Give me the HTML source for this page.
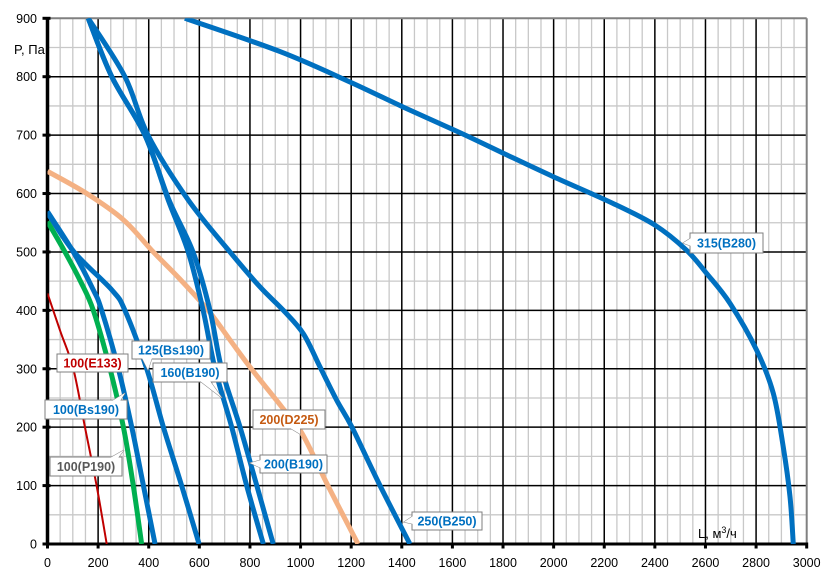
<!DOCTYPE html>
<html><head><meta charset="utf-8">
<style>
html,body{margin:0;padding:0;background:#fff;}
svg{display:block;font-family:"Liberation Sans",sans-serif;}
</style></head>
<body>
<svg id="chart" width="827" height="572" viewBox="0 0 827 572" xmlns="http://www.w3.org/2000/svg">
<g id="grid"></g>
<g id="axes"></g>
<g id="series"></g>
<g id="labels"></g>
<text x="14" y="54" font-size="13" fill="#000">P, Па</text>
<text x="698" y="538" font-size="13" fill="#000">L, м<tspan dy="-5" font-size="9">3</tspan><tspan dy="5">/ч</tspan></text>
</svg>
<script>
const xTicks=[0,200,400,600,800,1000,1200,1400,1600,1800,2000,2200,2400,2600,2800,3000];
const yTicks=[0,100,200,300,400,500,600,700,800,900];
const sE133X=[0,50,102,148,194,234];
const sE133Y=[429,365,300,200,100,0];
const sP190X=[0,69,130,181,247,300,339,372];
const sP190Y=[552,500,450,400,300,200,100,0];
const sBs100X=[0,102,181,214,280,333,379,425];
const sBs100Y=[569,500,435,400,300,200,100,0];
const sBs125X=[0,105,254,306,392,458,530,599];
const sBs125Y=[567,500,435,400,300,200,100,0];
const sD225X=[0,155,300,418,520,635,720,800,925,1005,1108,1227];
const sD225Y=[638,600,555,500,455,400,350,303,235,190,100,0];
const sB160X=[161,254,385,477,556,615,662,728,787,853];
const sB160Y=[900,800,700,589,500,400,300,200,100,0];
const sB200X=[161,254,385,480,575,642,688,761,827,892];
const sB200Y=[900,800,700,589,500,400,300,200,100,0];
const sB250X=[161,306,397,556,721,840,932,1011,1077,1143,1203,1314,1432];
const sB250Y=[900,800,700,589,500,440,400,360,303,246,200,100,0];
const sB280X=[543,919,1195,1406,1636,1801,1998,2235,2400,2525,2605,2697,2802,2868,2907,2934,2947];
const sB280Y=[900,843,791,748,703,669,629,583,546,503,463,412,332,258,167,81,0];

const X0=47.5,X1=806.7,Y0=544,Y1=18.3;
const xs=v=>X0+(v/3000)*(X1-X0);
const ys=v=>Y0-(v/900)*(Y0-Y1);
const NS="http://www.w3.org/2000/svg";
function mk(tag,attrs,parent){const e=document.createElementNS(NS,tag);for(const k in attrs)e.setAttribute(k,attrs[k]);parent.appendChild(e);return e;}
const grid=document.getElementById('grid'),axes=document.getElementById('axes'),series=document.getElementById('series'),labels=document.getElementById('labels');

for(let v=50;v<3000;v+=50){if(v%200===0)continue;const l=mk('line',{x1:xs(v),x2:xs(v),y1:Y1,y2:Y0,stroke:'#c8c8c8','stroke-width':1.3},grid);

}
for(let v=50;v<900;v+=100){const l=mk('line',{x1:X0,x2:X1,y1:ys(v),y2:ys(v),stroke:'#c8c8c8','stroke-width':1.3},grid);

}
xTicks.forEach(v=>{if(v===0||v===3000)return;const l=mk('line',{x1:xs(v),x2:xs(v),y1:Y1,y2:Y0,stroke:'#000','stroke-width':1.5},grid);

});
yTicks.forEach(v=>{if(v===0||v===900)return;const l=mk('line',{x1:X0,x2:X1,y1:ys(v),y2:ys(v),stroke:'#000','stroke-width':1.5},grid);

});
const b1=mk('line',{x1:X0,x2:X1,y1:Y1,y2:Y1,stroke:'#808080','stroke-width':2},axes);


const b2=mk('line',{x1:X1,x2:X1,y1:Y1,y2:Y0,stroke:'#808080','stroke-width':2},axes);


const ax=mk('line',{x1:X0,x2:X1,y1:Y0,y2:Y0,stroke:'#000','stroke-width':3},axes);


const ay=mk('line',{x1:X0,x2:X0,y1:Y1,y2:Y0+1.5,stroke:'#000','stroke-width':3.5},axes);


for(let v=0;v<=3000;v+=50){const t=mk('rect',{x:xs(v)-1.5,y:Y0-1.5,width:3,height:(v%200===0)?6:3,fill:'#000'},axes);

}
xTicks.forEach(v=>{const t=mk('text',{x:xs(v),y:567,'font-size':12.5,'text-anchor':'middle',fill:'#000'},axes);t.textContent=v;

});
yTicks.forEach(v=>{const k=mk('line',{x1:X0-5,x2:X0+3,y1:ys(v),y2:ys(v),stroke:'#000','stroke-width':3},axes);


const t=mk('text',{x:37,y:ys(v)+4.5,'font-size':12.5,'text-anchor':'end',fill:'#000'},axes);t.textContent=v;

});

function curve(X,Y){const p=X.map((x,i)=>[xs(x),ys(Y[i])]);let d='M'+p[0][0]+','+p[0][1];
for(let i=0;i<p.length-1;i++){const p0=p[i-1]||p[i],p1=p[i],p2=p[i+1],p3=p[i+2]||p2;
const c1=[p1[0]+(p2[0]-p0[0])/6,p1[1]+(p2[1]-p0[1])/6],c2=[p2[0]-(p3[0]-p1[0])/6,p2[1]-(p3[1]-p1[1])/6];
d+=' C'+c1[0]+','+c1[1]+' '+c2[0]+','+c2[1]+' '+p2[0]+','+p2[1];}return d;}
const defs=mk('clipPath',{id:'clip'},series);mk('rect',{x:X0,y:Y1,width:X1-X0,height:Y0-Y1},defs);
function draw(X,Y,color,w,name){const p=mk('path',{d:curve(X,Y),fill:'none',stroke:color,'stroke-width':w,'stroke-linejoin':'round','clip-path':'url(#clip)'},series);

}
draw(sB280X,sB280Y,'#0070c0',5,'series-315-b280');
draw(sB250X,sB250Y,'#0070c0',5,'series-250-b250');
draw(sD225X,sD225Y,'#f4b183',5,'series-200-d225');
draw(sB200X,sB200Y,'#0070c0',5,'series-200-b190');
draw(sB160X,sB160Y,'#0070c0',5,'series-160-b190');
draw(sBs125X,sBs125Y,'#0070c0',5,'series-125-bs190');
draw(sBs100X,sBs100Y,'#0070c0',5,'series-100-bs190');
draw(sP190X,sP190Y,'#00b050',5,'series-100-p190');
draw(sE133X,sE133Y,'#c00000',2,'series-100-e133');

function label(txt,x,y,w,h,color,tx,ty,ax1,ay1,ax2,ay2,name){
const g=mk('g',{},labels);


mk('polygon',{points:`${ax1},${ay1} ${ax2},${ay2} ${tx},${ty}`,fill:'#fff',stroke:'#7f7f7f','stroke-width':1},g);
mk('rect',{x:x,y:y,width:w,height:h,fill:'#fff',stroke:'#7f7f7f','stroke-width':1},g);
mk('polygon',{points:`${ax1},${ay1} ${ax2},${ay2} ${tx},${ty}`,fill:'#fff',stroke:'none'},g);
const t=mk('text',{x:x+w/2,y:y+h/2+4.5,'font-size':12.5,'font-weight':'bold','text-anchor':'middle',fill:color},g);t.textContent=txt;}
label('100(E133)',57,354,71,18,'#c00000',72,370,66,371,76,371,'label-100-e133');
label('125(Bs190)',132,341,78,18,'#0070c0',148,370,142,358,152,358,'label-125-bs190');
label('160(B190)',153,363,74,19,'#0070c0',222,398,200,381,210,381,'label-160-b190');
label('100(Bs190)',45,400,82,19,'#0070c0',125,393,112,401,120,401,'label-100-bs190');
label('100(P190)',50,457,72,19,'#595959',124,450,110,458,118,458,'label-100-p190');
label('200(D225)',253,410,72,19,'#c55a11',300,434,290,428,300,428,'label-200-d225');
label('200(B190)',260,455,67,18,'#0070c0',250,463,261,460,261,468,'label-200-b190');
label('250(B250)',412,512,70,18,'#0070c0',404,522,413,516,413,524,'label-250-b250');
label('315(B280)',690,233,73,20,'#0070c0',683,243,691,238,691,246,'label-315-b280');
</script>
</body></html>
